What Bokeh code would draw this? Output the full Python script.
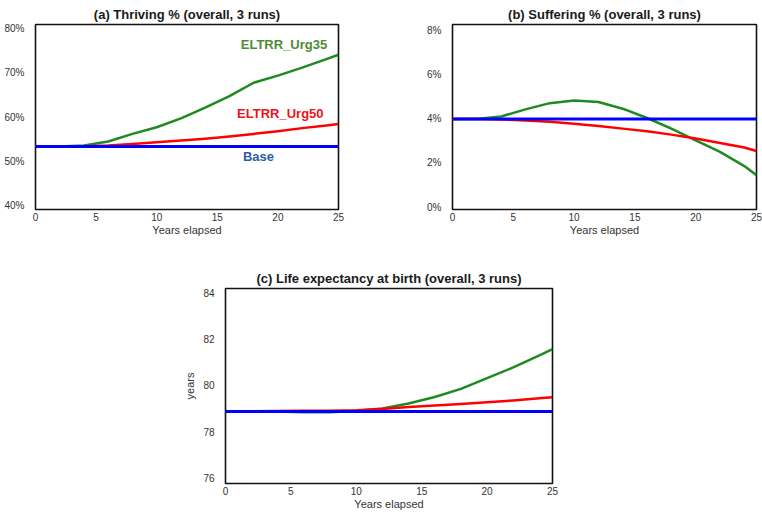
from bokeh.plotting import figure
from bokeh.layouts import column, row
from bokeh.models import Range1d, FixedTicker, PrintfTickFormatter, Spacer
from bokeh.embed import file_html
from bokeh.resources import INLINE
from bokeh.core.properties import value

# ---- data -------------------------------------------------------------
years = [0, 2, 4, 6, 8, 10, 12, 14, 16, 18, 20, 22, 24, 25]

# (a) Thriving % (overall)
thriving_base = [53.35] * 14
thriving_urg35 = [53.35, 53.35, 53.6, 54.5, 56.2, 57.7, 59.7, 62.1, 64.7, 67.7, 69.3, 71.1, 73.0, 74.0]
thriving_urg50 = [53.35, 53.35, 53.4, 53.6, 53.95, 54.3, 54.7, 55.1, 55.6, 56.2, 56.8, 57.5, 58.1, 58.4]

# (b) Suffering % (overall)
suffering_base = [3.98] * 14
suffering_urg35 = [3.98, 3.98, 4.10, 4.42, 4.70, 4.82, 4.75, 4.45, 4.03, 3.55, 3.02, 2.50, 1.86, 1.45]
suffering_urg50 = [3.98, 3.98, 3.96, 3.92, 3.86, 3.77, 3.67, 3.55, 3.43, 3.28, 3.10, 2.90, 2.70, 2.54]

# (c) Life expectancy at birth (years)
life_base = [78.87] * 14
life_urg35 = [78.87, 78.87, 78.87, 78.84, 78.84, 78.9, 79.0, 79.22, 79.5, 79.85, 80.32, 80.78, 81.3, 81.57]
life_urg50 = [78.88, 78.88, 78.89, 78.9, 78.9, 78.92, 78.98, 79.06, 79.13, 79.2, 79.27, 79.35, 79.44, 79.49]

x_ticks = [0, 5, 10, 15, 20, 25]
thriving_ticks = [40, 50, 60, 70, 80]
suffering_ticks = [0, 2, 4, 6, 8]
life_ticks = [76, 78, 80, 82, 84]

series_names = ["ELTRR_Urg35", "ELTRR_Urg50", "Base"]

# ---- styling ----------------------------------------------------------
FONT = "Liberation Sans"
GREEN = "#1f8a1f"
RED = "#ff0000"
BLUE = "#0000ff"
GREEN_TXT = "#4e8c36"
RED_TXT = "#ee1119"
BLUE_TXT = "#2f5ca8"


def make_panel(title, y_range, y_ticks, width, height, borders, y_fmt=None, y_label=None):
    left, right, top, bottom = borders
    p = figure(width=width, height=height, x_range=Range1d(0, 25), y_range=Range1d(*y_range),
               output_backend="svg", toolbar_location=None, tools="",
               min_border_left=left, min_border_right=right,
               min_border_top=top, min_border_bottom=bottom)
    p.title.text = title
    p.title.align = "center"
    p.title.text_font = FONT
    p.title.text_font_size = "13px"
    p.title.text_font_style = "bold"
    p.title.text_color = "#1a1a1a"
    p.title.standoff = 6
    p.grid.visible = False
    p.outline_line_color = "#111111"
    p.outline_line_width = 1.6
    p.background_fill_color = "white"
    p.border_fill_color = "white"
    for ax in (p.xaxis[0], p.yaxis[0]):
        ax.axis_line_color = None
        ax.major_tick_line_color = None
        ax.minor_tick_line_color = None
        ax.major_tick_out = 0
        ax.major_tick_in = 0
        ax.minor_tick_out = 0
        ax.minor_tick_in = 0
        ax.major_label_text_font = FONT
        ax.major_label_text_font_size = "10px"
        ax.major_label_text_color = "#333333"
        ax.axis_label_text_font = FONT
        ax.axis_label_text_font_size = "11px"
        ax.axis_label_text_font_style = "normal"
        ax.axis_label_text_color = "#333333"
    p.xaxis.ticker = FixedTicker(ticks=x_ticks)
    p.xaxis.major_label_standoff = 3
    p.xaxis.axis_label = "Years elapsed"
    p.xaxis.axis_label_standoff = 0
    p.yaxis.ticker = FixedTicker(ticks=y_ticks)
    p.yaxis.major_label_standoff = 11
    if y_fmt:
        p.yaxis.formatter = PrintfTickFormatter(format=y_fmt)
    if y_label:
        p.yaxis.axis_label = y_label
        p.yaxis.axis_label_standoff = 4
    return p


def draw(p, urg35, urg50, base):
    p.line(years, urg35, line_color=GREEN, line_width=2.5, line_join="round")
    p.line(years, urg50, line_color=RED, line_width=2.5, line_join="round")
    p.line(years, base, line_color=BLUE, line_width=3)


pa = make_panel("(a) Thriving % (overall, 3 runs)", (39.2, 80.8), thriving_ticks,
                380, 240, (35, 42, 23, 29), y_fmt="%d%%")
draw(pa, thriving_urg35, thriving_urg50, thriving_base)
# series labels inside panel (a)
pa.text(x=[20.5, 20.2, 18.4], y=[76.3, 60.8, 51.1], text=series_names,
        text_color=[GREEN_TXT, RED_TXT, BLUE_TXT], text_font=value(FONT),
        text_font_size="13px", text_font_style="bold",
        text_align="center", text_baseline="middle")

pb = make_panel("(b) Suffering % (overall, 3 runs)", (-0.1, 8.25), suffering_ticks,
                382, 240, (72, 6, 24, 31), y_fmt="%d%%")
draw(pb, suffering_urg35, suffering_urg50, suffering_base)

pc = make_panel("(c) Life expectancy at birth (overall, 3 runs)", (75.75, 84.2), life_ticks,
                582, 272, (45, 210, 48, 27), y_label="years")
draw(pc, life_urg35, life_urg50, life_base)

layout = column(row(pa, pb), row(Spacer(width=180, height=272), pc))

open("out.html", "w").write(file_html(layout, INLINE))
